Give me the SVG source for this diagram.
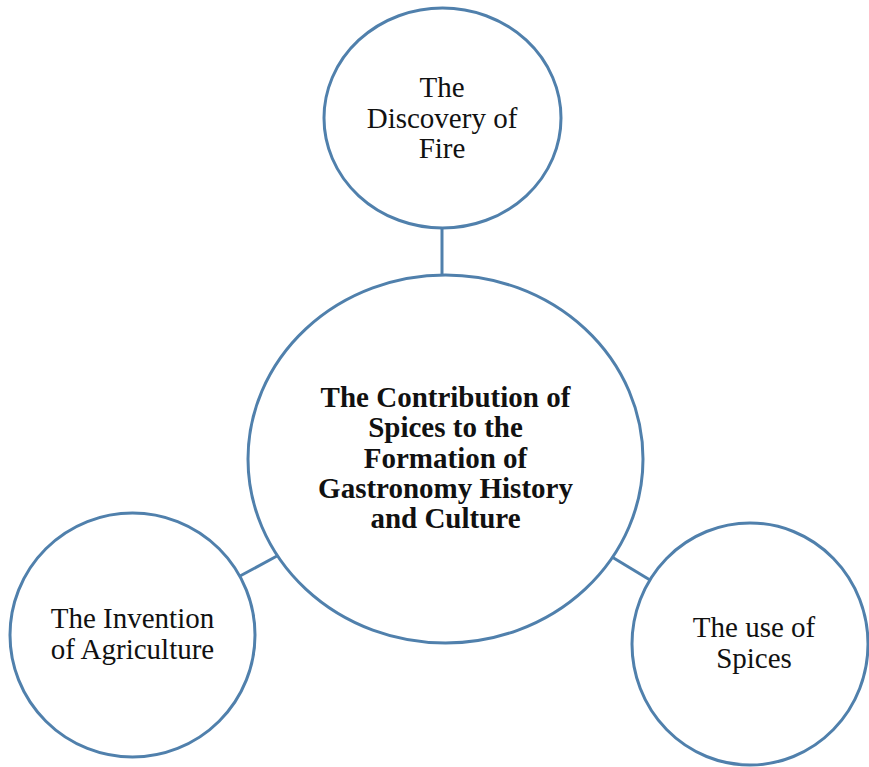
<svg xmlns="http://www.w3.org/2000/svg" width="869" height="767" viewBox="0 0 869 767">
<style>
.node{fill:#ffffff;stroke:#5080AC;stroke-width:3}
.edge{stroke:#5080AC;stroke-width:3;fill:none}
.t{font-family:"Liberation Serif","Times New Roman",serif;font-size:29px;fill:#111;text-anchor:middle}
.b{font-weight:bold}
</style>
<rect width="869" height="767" fill="#ffffff"/>
<g id="connectors">
<line class="edge" x1="442" y1="228" x2="442" y2="276"/>
<line class="edge" x1="240" y1="576" x2="277" y2="556"/>
<line class="edge" x1="612" y1="557" x2="650" y2="580"/>
</g>
<g id="node-fire">
<ellipse class="node" cx="442.5" cy="118" rx="118.5" ry="110"/>
<text class="t" x="442" y="97">The</text>
<text class="t" x="442" y="128">Discovery of</text>
<text class="t" x="442" y="158">Fire</text>
</g>
<g id="node-center">
<ellipse class="node" cx="445.5" cy="459" rx="197.5" ry="184"/>
<text class="t b" x="445.5" y="407">The Contribution of</text>
<text class="t b" x="445.5" y="437">Spices to the</text>
<text class="t b" x="445.5" y="468">Formation of</text>
<text class="t b" x="445.5" y="498">Gastronomy History</text>
<text class="t b" x="445.5" y="528">and Culture</text>
</g>
<g id="node-agriculture">
<ellipse class="node" cx="132.5" cy="635" rx="122.5" ry="122"/>
<text class="t" x="132.5" y="628">The Invention</text>
<text class="t" x="132.5" y="659">of Agriculture</text>
</g>
<g id="node-spices">
<ellipse class="node" cx="750" cy="644" rx="118" ry="121"/>
<text class="t" x="754" y="637">The use of</text>
<text class="t" x="754" y="668">Spices</text>
</g>
</svg>
